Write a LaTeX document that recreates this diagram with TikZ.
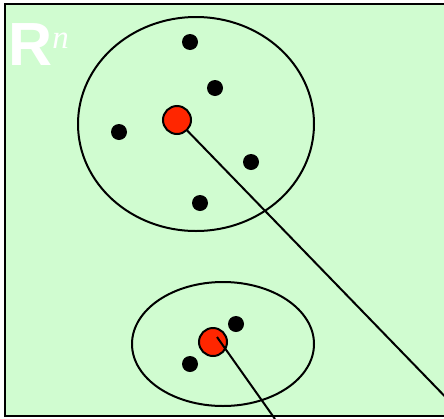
\documentclass[tikz,border=0pt]{standalone}
\usepackage{fontspec}
\setmainfont{Liberation Serif}
\setsansfont{Liberation Sans}
\usetikzlibrary{calc}
\begin{document}
\begin{tikzpicture}[x=1pt,y=-1pt,
  dot/.style={circle,fill=black,inner sep=0pt,minimum size=16pt},
  center/.style={circle,draw=black,line width=2pt,fill=redc,inner sep=0pt,minimum size=28pt},
  link/.style={draw=black,line width=2pt}]
\definecolor{bgc}{RGB}{208,252,208}
\definecolor{redc}{RGB}{255,38,0}
\useasboundingbox (0,0) rectangle (444,418);
\begin{scope}
\clip (0,0) rectangle (444,418);
\fill[bgc] (5,4) rectangle (450,416);
\draw[black,line width=2pt] (450,4) -- (5,4) -- (5,416) -- (450,416);
% ellipses
\draw[black,line width=2pt] (196,124) ellipse [x radius=118, y radius=107];
\draw[black,line width=2pt] (223,344) ellipse [x radius=91, y radius=62];
% ends of links
\coordinate (e1) at (460,412);
\coordinate (e2) at (275,419);
% top cluster
\node[dot] (a1) at (190,42) {};
\node[dot] (a2) at (215,88) {};
\node[dot] (a3) at (119,132) {};
\node[dot] (a4) at (251,162) {};
\node[dot] (a5) at (200,203) {};
\path[link] (177,120) coordinate (c1c) -- (e1);
\node[center] (c1) at (177,120) {};
% bottom cluster
\node[dot] (b1) at (236,324) {};
\node[dot] (b2) at (190,364) {};
\node[center] (c2) at (213,342) {};
\draw[link] ($(c2.center)+(4,-5)$) -- (e2);
\end{scope}
\node[white,anchor=base west,inner sep=0pt] (R) at (8,65)
  {\sffamily\bfseries\fontsize{61}{61}\selectfont R\raisebox{17pt}{\rmfamily\mdseries\itshape\fontsize{33}{33}\selectfont n}};
\end{tikzpicture}
\end{document}
